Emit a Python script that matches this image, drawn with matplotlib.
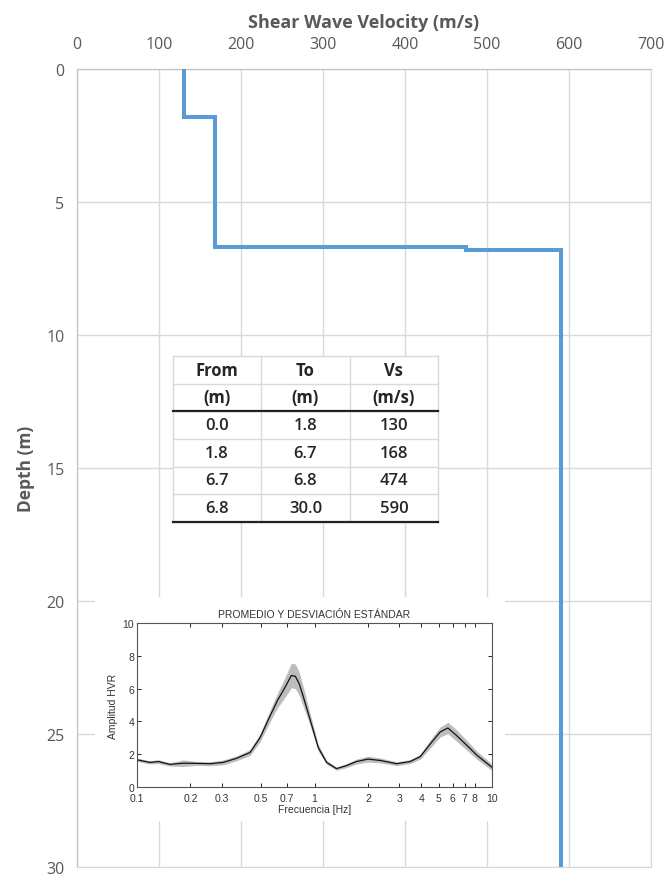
import numpy as np
import matplotlib
matplotlib.use("Agg")
import matplotlib.pyplot as plt
from matplotlib.ticker import FixedLocator, NullLocator

# Layer table (depth in m, Vs in m/s)
layer_top = [0.0, 1.8, 6.7, 6.8]
layer_bot = [1.8, 6.7, 6.8, 30.0]
vs = [130, 168, 474, 590]

x_ticks = [0, 100, 200, 300, 400, 500, 600, 700]
y_ticks = [0, 5, 10, 15, 20, 25, 30]

table_head1 = ["From", "To", "Vs"]
table_head2 = ["(m)", "(m)", "(m/s)"]

# HVSR mean curve (inset picture)
freq = [0.1, 0.118, 0.132, 0.153, 0.182, 0.217, 0.258, 0.306, 0.364, 0.433,
        0.493, 0.56, 0.62, 0.66, 0.70, 0.74, 0.78, 0.82, 0.865, 0.91, 0.96,
        1.05, 1.17, 1.33, 1.51, 1.72, 2.0, 2.34, 2.9, 3.45, 3.94, 4.47, 5.1,
        5.64, 6.3, 7.2, 8.2, 10.0]
hv = [1.66, 1.5, 1.55, 1.38, 1.45, 1.44, 1.42, 1.5, 1.75, 2.1,
      3.0, 4.3, 5.3, 5.8, 6.3, 6.8, 6.75, 6.3, 5.5, 4.7, 3.85,
      2.4, 1.5, 1.12, 1.3, 1.55, 1.7, 1.62, 1.42, 1.55, 1.85, 2.6, 3.35,
      3.6, 3.15, 2.55, 1.95, 1.2]
hv_std = [0.1, 0.1, 0.12, 0.1, 0.2, 0.12, 0.12, 0.15, 0.15, 0.18,
          0.25, 0.35, 0.45, 0.55, 0.65, 0.75, 0.75, 0.7, 0.6, 0.45, 0.35,
          0.2, 0.12, 0.1, 0.12, 0.15, 0.18, 0.15, 0.12, 0.12, 0.15, 0.25, 0.3,
          0.35, 0.35, 0.3, 0.25, 0.2]
hv_xticks = [0.1, 0.2, 0.3, 0.5, 0.7, 1, 2, 3, 4, 5, 6, 7, 8, 10]
hv_xlabels = ["0.1", "0.2", "0.3", "0.5", "0.7", "1", "2", "3", "4", "5", "6", "7", "8", "10"]

plt.rcParams['font.family'] = ['Open Sans', 'DejaVu Sans']
W, H = 666, 879
fig = plt.figure(figsize=(W / 100, H / 100), dpi=100)

def frac(x0, y0, x1, y1):
    return [x0 / W, 1 - y1 / H, (x1 - x0) / W, (y1 - y0) / H]

gray_txt = "#595959"
ax = fig.add_axes(frac(77, 70, 651, 868))

# step profile from the layer table
px, py = [], []
for t, b, v in zip(layer_top, layer_bot, vs):
    px += [v, v]
    py += [t, b]
ax.plot(px, py, color="#5B9BD5", lw=2.9, solid_joinstyle="miter", zorder=3)

ax.set_xlim(0, 700)
ax.set_ylim(30, 0)
ax.set_xticks(x_ticks)
ax.set_yticks(y_ticks)
ax.xaxis.tick_top()
ax.xaxis.set_label_position("top")
ax.tick_params(length=0, labelsize=11.5, labelcolor=gray_txt)
ax.tick_params(axis="x", pad=12)
ax.tick_params(axis="y", pad=9)
ax.grid(True, color="#D9D9D9", lw=1)
for s in ax.spines.values():
    s.set_color("#D9D9D9")
ax.spines["left"].set_color("#BFBFBF")
ax.spines["top"].set_color("#BFBFBF")
ax.set_xlabel("Shear Wave Velocity (m/s)", fontsize=13, fontweight="bold",
              color=gray_txt, labelpad=7)
ax.set_ylabel("Depth (m)", fontsize=12.5, fontweight="bold", color=gray_txt, labelpad=8)

# table
tax = fig.add_axes(frac(173, 357, 438, 523))
tax.set_xlim(0, 3)
tax.set_ylim(6, 0)
tax.set_xticks([])
tax.set_yticks([])
for s in tax.spines.values():
    s.set_visible(False)
tax.set_facecolor("white")
for r in range(0, 7):
    tax.plot([0, 3], [r, r], color="#D9D9D9", lw=1, clip_on=False)
for c in range(0, 4):
    tax.plot([c, c], [0, 6], color="#D9D9D9", lw=1, clip_on=False)
tax.plot([0, 3], [2, 2], color="#222222", lw=1.6, clip_on=False)
tax.plot([0, 3], [6, 6], color="#222222", lw=1.6, clip_on=False)
for c in range(3):
    tax.text(c + 0.5, 0.5, table_head1[c], ha="center", va="center",
             fontsize=12, fontweight="bold", color="#262626")
    tax.text(c + 0.5, 1.5, table_head2[c], ha="center", va="center",
             fontsize=12, fontweight="bold", color="#262626")
for r, (t, b, v) in enumerate(zip(layer_top, layer_bot, vs)):
    for c, val in enumerate([f"{t:.1f}", f"{b:.1f}", f"{v:d}"]):
        tax.text(c + 0.5, r + 2.5, val, ha="center", va="center",
                 fontsize=12, fontweight="semibold", color="#262626")

# inset HVSR picture
bg = fig.add_axes(frac(95, 598, 505, 822))
bg.set_xticks([])
bg.set_yticks([])
for s in bg.spines.values():
    s.set_visible(False)

iax = fig.add_axes(frac(137, 624, 492, 788))
f = np.array(freq)
m = np.array(hv)
sd = np.array(hv_std)
iax.fill_between(f, m - sd, m + sd, color="#BDBDBD", lw=0)
iax.plot(f, m, color="#111111", lw=0.9)
iax.set_xscale("log")
iax.set_xlim(0.1, 10)
iax.set_ylim(0, 10)
iax.xaxis.set_major_locator(FixedLocator(hv_xticks))
iax.xaxis.set_minor_locator(NullLocator())
iax.set_xticklabels(hv_xlabels)
iax.set_yticks([0, 2, 4, 6, 8, 10])
afont = ['Liberation Sans', 'DejaVu Sans']
for lab in iax.get_xticklabels() + iax.get_yticklabels():
    lab.set_family(afont)
iax.tick_params(direction="in", top=True, right=True, length=3, width=0.6,
                labelsize=7.5, labelcolor="#333333")
iax.tick_params(axis="x", pad=4.5)
iax.tick_params(axis="y", pad=2)
for s in iax.spines.values():
    s.set_color("#555555")
    s.set_linewidth(0.8)
iax.set_title("PROMEDIO Y DESVIACIÓN ESTÁNDAR", fontsize=7.5, family=afont,
              color="#333333", pad=4)
iax.set_xlabel("Frecuencia [Hz]", fontsize=7.5, family=afont, color="#333333", labelpad=0.5)
iax.set_ylabel("Amplitud HVR", fontsize=7.5, family=afont, color="#333333", labelpad=3)

fig.savefig("out.png", dpi=100)
